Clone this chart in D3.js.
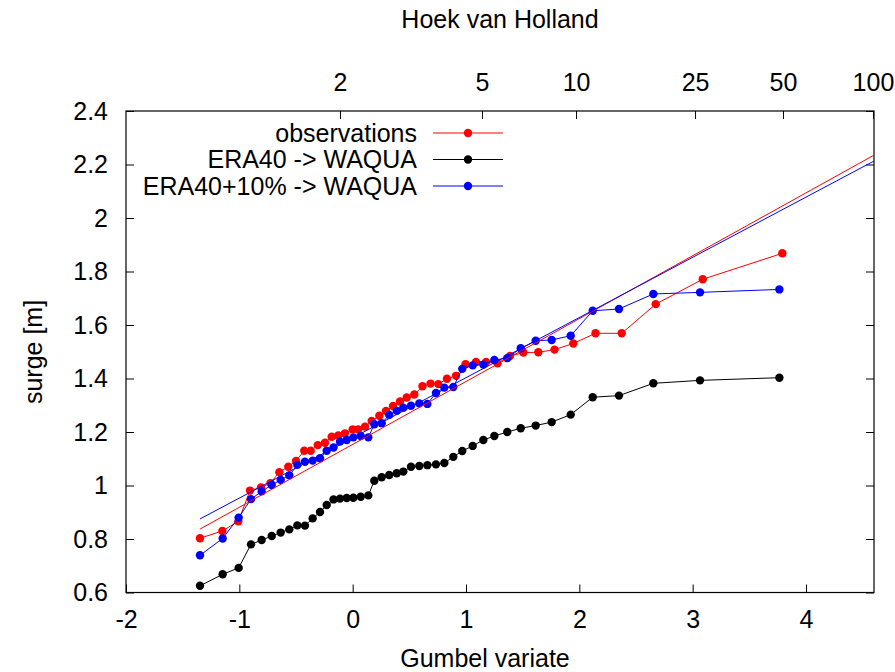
<!DOCTYPE html>
<html lang="en">
<head>
<meta charset="UTF-8">
<title>Hoek van Holland</title>
<script src="https://d3js.org/d3.v7.min.js"></script>
<style>
  body { margin: 0; background: #fff; }
  svg { display: block; font-family: "Liberation Sans", Arial, sans-serif; }
</style>
</head>
<body>
<svg width="895" height="672"></svg>
<script>
// Gumbel variates of the ranked model years (44 values)
const modelX = [-1.347, -1.147, -1.006, -0.897, -0.803, -0.714, -0.635, -0.559, -0.488, -0.421,
  -0.353, -0.288, -0.229, -0.169, -0.112, -0.053, 0.006, 0.071, 0.138, 0.191,
  0.256, 0.323, 0.389, 0.447, 0.515, 0.588, 0.659, 0.735, 0.809, 0.888,
  0.967, 1.059, 1.153, 1.250, 1.364, 1.483, 1.615, 1.756, 1.924, 2.118,
  2.350, 2.653, 3.065, 3.765];

// Gumbel variates of the ranked observed years (45 values)
const obsX = [-1.347, -1.150, -1.009, -0.906, -0.809, -0.725, -0.647, -0.568, -0.500, -0.427,
  -0.370, -0.308, -0.244, -0.185, -0.127, -0.068, 0.000, 0.050, 0.109, 0.168,
  0.235, 0.294, 0.356, 0.418, 0.477, 0.544, 0.616, 0.687, 0.756, 0.832,
  0.912, 0.996, 1.088, 1.177, 1.278, 1.388, 1.506, 1.638, 1.781, 1.947,
  2.143, 2.374, 2.674, 3.089, 3.791];

const observations = [0.803, 0.830, 0.866, 0.981, 0.993, 1.009, 1.050, 1.070, 1.092, 1.130,
  1.130, 1.151, 1.160, 1.182, 1.187, 1.195, 1.210, 1.210, 1.220, 1.241,
  1.261, 1.279, 1.297, 1.314, 1.329, 1.340, 1.371, 1.381, 1.379, 1.399,
  1.410, 1.453, 1.462, 1.462, 1.457, 1.484, 1.497, 1.498, 1.508, 1.531,
  1.569, 1.569, 1.678, 1.771, 1.868];

const era40 = [0.625, 0.668, 0.692, 0.780, 0.796, 0.811, 0.824, 0.836, 0.851, 0.850,
  0.877, 0.901, 0.927, 0.948, 0.951, 0.953, 0.954, 0.958, 0.963, 1.018,
  1.031, 1.039, 1.046, 1.052, 1.070, 1.073, 1.076, 1.079, 1.084, 1.107,
  1.129, 1.148, 1.170, 1.185, 1.200, 1.214, 1.224, 1.237, 1.265, 1.330,
  1.336, 1.382, 1.393, 1.403];

const era40plus10 = [0.739, 0.802, 0.880, 0.949, 0.978, 1.002, 1.021, 1.038, 1.077, 1.089,
  1.093, 1.102, 1.130, 1.142, 1.164, 1.170, 1.180, 1.185, 1.180, 1.229,
  1.233, 1.264, 1.279, 1.291, 1.298, 1.307, 1.305, 1.346, 1.366, 1.368,
  1.436, 1.449, 1.452, 1.469, 1.476, 1.513, 1.541, 1.544, 1.560, 1.653,
  1.660, 1.716, 1.722, 1.733];

// fitted Gumbel lines [variate, surge]
const obsFit = [[-1.347, 0.837], [4.6, 2.235]];
const era40plus10Fit = [[-1.347, 0.875], [4.6, 2.213]];

const xTicks = [-2, -1, 0, 1, 2, 3, 4];
const yTicks = [0.6, 0.8, 1, 1.2, 1.4, 1.6, 1.8, 2, 2.2, 2.4];
// return period labels on the top axis and their Gumbel variate positions
const returnPeriods = ["2", "5", "10", "25", "50", "100"];
const returnPeriodX = [-0.112, 1.141, 1.971, 3.021, 3.797, 4.591];

const legendNames = ["observations", "ERA40 -> WAQUA", "ERA40+10% -> WAQUA"];
const colors = ["#ff0000", "#000000", "#0000ff"];

const svg = d3.select("svg");
const plotLeft = 126, plotRight = 874, plotTop = 111, plotBottom = 592.5;

const x = d3.scaleLinear().domain([-2, 4.6]).range([plotLeft, plotRight]);
const y = d3.scaleLinear().domain([0.6, 2.4]).range([plotBottom, plotTop]);

// gnuplot style labels: plain hyphen minus, %g format
const fmt = d => String(+d.toFixed(2));

// axes (ticks pointing inward)
svg.append("g")
    .attr("transform", `translate(0,${plotBottom})`)
    .call(d3.axisBottom(x).tickValues(xTicks).tickSizeInner(-8).tickSizeOuter(0).tickPadding(18).tickFormat(fmt));
svg.append("g")
    .attr("transform", `translate(${plotLeft},0)`)
    .call(d3.axisLeft(y).tickValues(yTicks).tickSizeInner(-8).tickSizeOuter(0).tickPadding(18).tickFormat(fmt));
svg.append("g")
    .attr("transform", `translate(${plotRight},0)`)
    .call(d3.axisRight(y).tickValues(yTicks).tickSizeInner(-8).tickSizeOuter(0).tickFormat(""));
svg.append("g")
    .attr("transform", `translate(0,${plotTop})`)
    .call(d3.axisTop(x).tickValues(returnPeriodX).tickSizeInner(-8).tickSizeOuter(0).tickPadding(20)
        .tickFormat((d, i) => returnPeriods[i]));

svg.selectAll(".tick text").attr("font-size", 25).attr("fill", "#000")
    .attr("font-family", "'Liberation Sans', Arial, sans-serif");
svg.selectAll(".tick line").attr("stroke", "#000");
svg.selectAll(".domain").remove();

svg.append("rect")
    .attr("x", plotLeft).attr("y", plotTop)
    .attr("width", plotRight - plotLeft).attr("height", plotBottom - plotTop)
    .attr("fill", "none").attr("stroke", "#000").attr("stroke-width", 1.2);

// titles
svg.append("text").attr("x", 500).attr("y", 28).attr("text-anchor", "middle")
    .attr("font-size", 25).text("Hoek van Holland");
svg.append("text").attr("x", 485).attr("y", 667).attr("text-anchor", "middle")
    .attr("font-size", 25).text("Gumbel variate");
svg.append("text").attr("transform", "translate(42,352) rotate(-90)").attr("text-anchor", "middle")
    .attr("font-size", 25).text("surge [m]");

const line = d3.line().x(d => x(d[0])).y(d => y(d[1]));

const series = [
  d3.zip(obsX, observations),
  d3.zip(modelX, era40),
  d3.zip(modelX, era40plus10)
];

series.forEach((pts, i) => {
  const g = svg.append("g");
  g.append("path").datum(pts).attr("d", line)
      .attr("fill", "none").attr("stroke", colors[i]).attr("stroke-width", 1);
  g.selectAll("circle").data(pts).join("circle")
      .attr("cx", d => x(d[0])).attr("cy", d => y(d[1])).attr("r", 4.2)
      .attr("fill", colors[i]);
});

// fitted lines
[[obsFit, colors[0]], [era40plus10Fit, colors[2]]].forEach(([pts, c]) => {
  svg.append("path").datum(pts).attr("d", line)
      .attr("fill", "none").attr("stroke", c).attr("stroke-width", 1);
});

// legend
const legendY = [133, 159.5, 186];
legendNames.forEach((name, i) => {
  svg.append("text").attr("x", 417).attr("y", legendY[i]).attr("dy", "0.35em")
      .attr("text-anchor", "end").attr("font-size", 25).text(name);
  svg.append("line").attr("x1", 433).attr("x2", 503).attr("y1", legendY[i]).attr("y2", legendY[i])
      .attr("stroke", colors[i]).attr("stroke-width", 1);
  svg.append("circle").attr("cx", 468).attr("cy", legendY[i]).attr("r", 4.2).attr("fill", colors[i]);
});
</script>
</body>
</html>
